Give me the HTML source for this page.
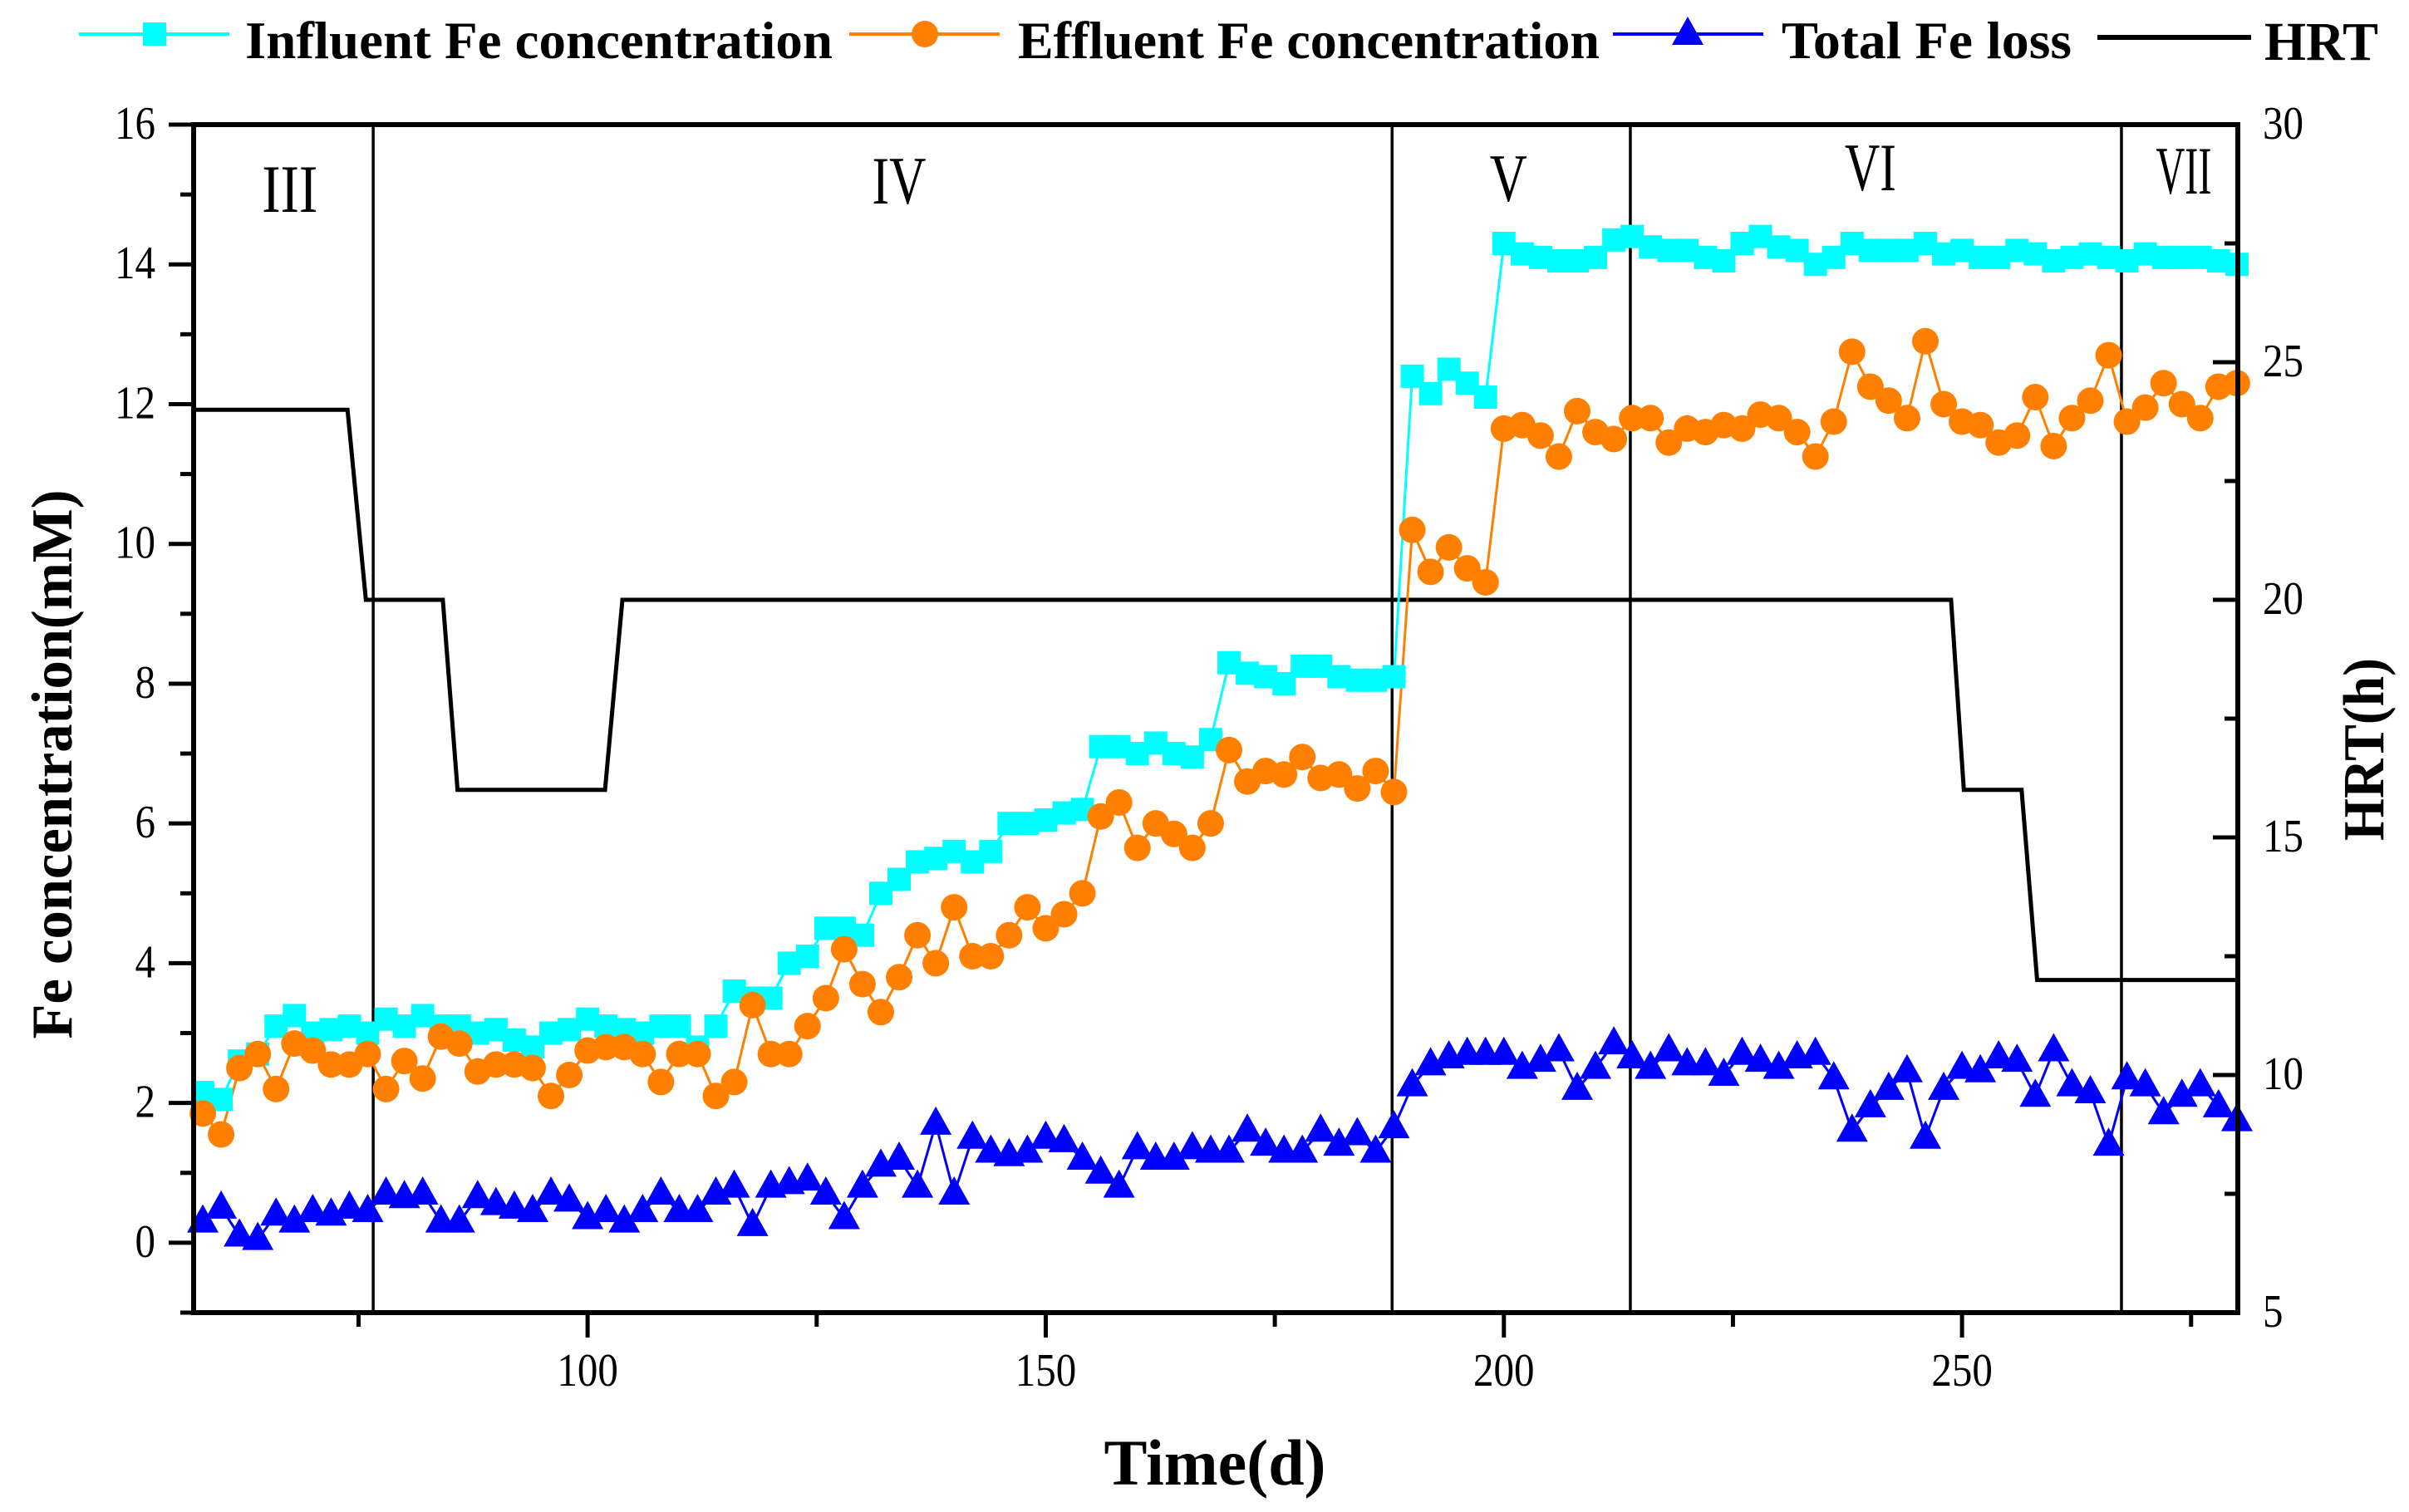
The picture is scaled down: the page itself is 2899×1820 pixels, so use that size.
<!DOCTYPE html>
<html><head><meta charset="utf-8">
<style>
html,body{margin:0;padding:0;background:#fff;}
svg{display:block;font-family:"Liberation Serif",serif;}
</style></head>
<body>
<svg id="chart" width="2899" height="1820" viewBox="0 0 2899 1820" xmlns="http://www.w3.org/2000/svg">
<rect x="0" y="0" width="2899" height="1820" fill="#fff"/>
<g id="phases"></g>
<g id="series"></g>
<g id="axes"></g>
<g id="legend"></g>
</svg>
<script>
// ---- data ----
const startDay = 58;
const dayStep = 2;
const influent = [2.15,2.05,2.6,2.7,3.1,3.25,3.0,3.05,3.1,3.0,
3.2,3.1,3.25,3.1,3.1,3.0,3.05,2.9,2.8,3.0,
3.05,3.2,3.1,3.05,3.0,3.1,3.1,2.8,3.1,3.6,
3.5,3.5,4.0,4.1,4.5,4.5,4.4,5.0,5.2,5.45,
5.5,5.6,5.45,5.6,6.0,6.0,6.05,6.15,6.2,7.1,
7.1,7.0,7.15,7.0,6.95,7.2,8.3,8.15,8.1,8.0,
8.25,8.25,8.1,8.05,8.05,8.1,12.4,12.15,12.5,12.3,
12.1,14.3,14.15,14.1,14.05,14.05,14.1,14.35,14.4,14.25,
14.2,14.2,14.1,14.05,14.3,14.4,14.25,14.2,14.0,14.1,
14.3,14.2,14.2,14.2,14.3,14.15,14.2,14.1,14.1,14.2,
14.15,14.05,14.1,14.15,14.1,14.05,14.15,14.1,14.1,14.1,
14.05,14.0];
const effluent = [1.85,1.55,2.5,2.7,2.2,2.85,2.75,2.55,2.55,2.7,
2.2,2.6,2.35,2.95,2.85,2.45,2.55,2.55,2.5,2.1,
2.4,2.75,2.8,2.8,2.7,2.3,2.7,2.7,2.1,2.3,
3.4,2.7,2.7,3.1,3.5,4.2,3.7,3.3,3.8,4.4,
4.0,4.8,4.1,4.1,4.4,4.8,4.5,4.7,5.0,6.1,
6.3,5.65,6.0,5.85,5.65,6.0,7.05,6.6,6.75,6.7,
6.95,6.65,6.7,6.5,6.75,6.45,10.2,9.6,9.95,9.65,
9.45,11.65,11.7,11.55,11.25,11.9,11.6,11.5,11.8,11.8,
11.45,11.65,11.6,11.7,11.65,11.85,11.8,11.6,11.25,11.75,
12.75,12.25,12.05,11.8,12.9,12.0,11.75,11.7,11.45,11.55,
12.1,11.4,11.8,12.05,12.7,11.75,11.95,12.3,12.0,11.8,
12.25,12.3];
const totalLoss = [0.3,0.5,0.1,0.05,0.4,0.3,0.45,0.4,0.5,0.45,
0.7,0.65,0.7,0.3,0.3,0.65,0.55,0.5,0.45,0.7,
0.6,0.35,0.45,0.3,0.45,0.7,0.45,0.45,0.7,0.8,
0.25,0.8,0.85,0.9,0.7,0.35,0.8,1.1,1.2,0.8,
1.7,0.7,1.5,1.3,1.25,1.3,1.5,1.45,1.2,1.0,
0.8,1.35,1.2,1.2,1.35,1.3,1.3,1.6,1.4,1.3,
1.3,1.6,1.4,1.55,1.3,1.65,2.25,2.55,2.65,2.7,
2.7,2.7,2.5,2.6,2.75,2.2,2.5,2.85,2.65,2.5,
2.75,2.55,2.55,2.4,2.7,2.6,2.5,2.65,2.7,2.35,
1.6,1.95,2.2,2.45,1.5,2.2,2.5,2.45,2.65,2.6,
2.1,2.75,2.25,2.15,1.4,2.35,2.25,1.85,2.1,2.25,
1.95,1.75];
const hrtDays = [57,73.8,75.8,84.2,85.8,101.9,103.8,248.8,250.2,256.5,258.2,280];
const hrtValues = [24,24,20,20,16,16,20,20,16,16,12,12];
const phaseDays = [76.6,187.8,213.8,267.4];
const phaseLabels = ["III","IV","V","VI","VII"];
const phaseLabelDays = [67.5,134,200.5,240,274.2];
const xTicks = [100,150,200,250];
const xTickLabels = ["100","150","200","250"];
const yTicks = [0,2,4,6,8,10,12,14,16];
const yTickLabels = ["0","2","4","6","8","10","12","14","16"];
const rTicks = [5,10,15,20,25,30];
const rTickLabels = ["5","10","15","20","25","30"];

// ---- axes scales ----
const X0=233, X1=2693, Y0=150, Y1=1580;
const xMin=57, xMax=280.1, yMin=-1, yMax=16, rMin=5, rMax=30;
const sx = d => X0 + (d-xMin)/(xMax-xMin)*(X1-X0);
const sy = v => Y1 - (v-yMin)/(yMax-yMin)*(Y1-Y0);
const sr = v => Y1 - (v-rMin)/(rMax-rMin)*(Y1-Y0);
const days = influent.map((_,i)=>startDay+i*dayStep);

const NS="http://www.w3.org/2000/svg";
function mk(tag, attrs, parent){
  const e=document.createElementNS(NS,tag);
  for(const k in attrs) e.setAttribute(k,attrs[k]);
  parent.appendChild(e); return e;
}
const gP=document.getElementById('phases'), gS=document.getElementById('series'),
      gA=document.getElementById('axes'), gL=document.getElementById('legend');

// phase lines
phaseDays.forEach((d,i)=>{
  const l=mk('line',{x1:sx(d),x2:sx(d),y1:Y0,y2:Y1,stroke:'#000','stroke-width':3.5},gP);
  
  
});
const phaseBase=[255,245,242,229,233];
const phaseWidths=[67,65,45,62,67];
phaseLabels.forEach((t,i)=>{
  const tx=mk('text',{x:sx(phaseLabelDays[i]),y:phaseBase[i],'font-size':82,'text-anchor':'middle',textLength:phaseWidths[i],lengthAdjust:'spacingAndGlyphs'},gP);
  tx.textContent=t;
  
  
});

// HRT line
let hp='';
hrtDays.forEach((d,i)=>{hp+=(i?'L':'M')+sx(d).toFixed(1)+','+sr(hrtValues[i]).toFixed(1);});
const hl=mk('path',{d:hp,fill:'none',stroke:'#000','stroke-width':5},gS);



function line(vals,color,name){
  let p='';
  vals.forEach((v,i)=>{p+=(i?'L':'M')+sx(days[i]).toFixed(1)+','+sy(v).toFixed(1);});
  const e=mk('path',{d:p,fill:'none',stroke:color,'stroke-width':3},gS);
  
  
}
function square(cx,cy,parent,name){
  const e=mk('rect',{x:cx-14,y:cy-14,width:28,height:28,fill:'#00ffff'},parent);
  
  
}
function circle(cx,cy,parent,name){
  const e=mk('circle',{cx:cx,cy:cy,r:16,fill:'#ff8000'},parent);
  
  
}
function tri(cx,cy,parent,name){
  const e=mk('polygon',{points:`${cx},${cy-21} ${cx-19},${cy+13} ${cx+19},${cy+13}`,fill:'#0000ff'},parent);
  
  
}
line(influent,'#00ffff','influent-line');
line(effluent,'#ff8000','effluent-line');
line(totalLoss,'#0000ff','total-loss-line');
influent.forEach((v,i)=>square(sx(days[i]),sy(v),gS,'influent-point'));
effluent.forEach((v,i)=>circle(sx(days[i]),sy(v),gS,'effluent-point'));
totalLoss.forEach((v,i)=>tri(sx(days[i]),sy(v),gS,'total-loss-point'));

// axes frame
const frame=[['left-axis',X0,Y0,X0,Y1],['right-axis',X1,Y0,X1,Y1],['top-axis',X0,Y0,X1,Y0],['bottom-axis',X0,Y1,X1,Y1]];
frame.forEach(f=>{
  const l=mk('line',{x1:f[1],y1:f[2],x2:f[3],y2:f[4],stroke:'#000','stroke-width':6,'stroke-linecap':'square'},gA);
  
  
});
// x ticks (major + minor)
for(let d=75; d<=275; d+=25){
  const major = d%50===0;
  const t=mk('line',{x1:sx(d),x2:sx(d),y1:Y1,y2:Y1+(major?30:17),stroke:'#000','stroke-width':5},gA);
  
  
}
xTicks.forEach((d,i)=>{
  const t=mk('text',{x:sx(d),y:1668,'font-size':56,'text-anchor':'middle',textLength:xTickLabels[i].length*24.5,lengthAdjust:'spacingAndGlyphs'},gA);
  t.textContent=xTickLabels[i];
  
  
});
// left ticks
for(let v=-1; v<=16; v+=1){
  const major = v%2===0;
  const t=mk('line',{x1:X0,x2:X0-(major?30:16),y1:sy(v),y2:sy(v),stroke:'#000','stroke-width':5},gA);
  
  
}
yTicks.forEach((v,i)=>{
  const t=mk('text',{x:187,y:sy(v)+17,'font-size':56,'text-anchor':'end',textLength:yTickLabels[i].length*24.5,lengthAdjust:'spacingAndGlyphs'},gA);
  t.textContent=yTickLabels[i];
  
  
});
// right ticks (inward)
for(let v=5; v<=30; v+=2.5){
  const major = v%5===0;
  const t=mk('line',{x1:X1,x2:X1-(major?30:16),y1:sr(v),y2:sr(v),stroke:'#000','stroke-width':5},gA);
  
  
}
rTicks.forEach((v,i)=>{
  const t=mk('text',{x:2723,y:sr(v)+17,'font-size':56,'text-anchor':'start',textLength:rTickLabels[i].length*24.5,lengthAdjust:'spacingAndGlyphs'},gA);
  t.textContent=rTickLabels[i];
  
  
});
// titles
const xt=mk('text',{x:1462,y:1787,'font-size':78,'font-weight':'bold','text-anchor':'middle',textLength:267,lengthAdjust:'spacingAndGlyphs'},gA);
xt.textContent='Time(d)';


const yt=mk('text',{x:0,y:0,'font-size':70,'font-weight':'bold','text-anchor':'middle',textLength:661,lengthAdjust:'spacingAndGlyphs',transform:'translate(86,920) rotate(-90)'},gA);
yt.textContent='Fe concentration(mM)';


const rt=mk('text',{x:0,y:0,'font-size':70,'font-weight':'bold','text-anchor':'middle',textLength:220,lengthAdjust:'spacingAndGlyphs',transform:'translate(2868,902) rotate(-90)'},gA);
rt.textContent='HRT(h)';



// legend
const LY=41;
function legText(x,len,t,name){
  const e=mk('text',{x:x,y:70,'font-size':64,'font-weight':'bold',textLength:len,lengthAdjust:'spacingAndGlyphs'},gL);
  e.textContent=t;
  
  
}
function legLine(x1,x2,y,color,w,name){
  const e=mk('line',{x1:x1,x2:x2,y1:y,y2:y,stroke:color,'stroke-width':w},gL);
  
  
}
legLine(95,276,LY,'#00ffff',4,'legend-influent-line');
square(186,LY,gL,'legend-influent-marker');
legText(295,707,'Influent Fe concentration','legend-influent-label');
legLine(1022,1203,LY,'#ff8000',4,'legend-effluent-line');
circle(1113,LY,gL,'legend-effluent-marker');
legText(1225,700,'Effluent Fe concentration','legend-effluent-label');
legLine(1941,2122,LY,'#0000ff',4,'legend-total-loss-line');
tri(2031,LY,gL,'legend-total-loss-marker');
legText(2144,349,'Total Fe loss','legend-total-loss-label');
legLine(2524,2709,45,'#000',6,'legend-hrt-line');
const ht=mk('text',{x:2725,y:72,'font-size':66,'font-weight':'bold',textLength:137,lengthAdjust:'spacingAndGlyphs'},gL);
ht.textContent='HRT';


</script>
</body></html>
